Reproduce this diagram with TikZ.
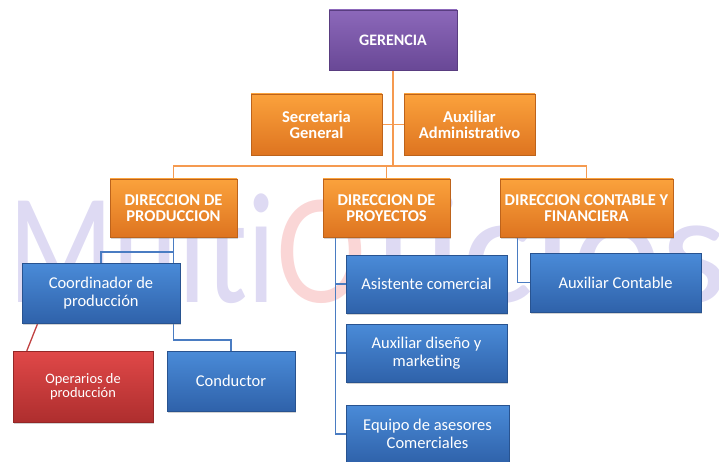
\documentclass[tikz,border=0pt]{standalone}
\usepackage{fontspec}
\setmainfont{Carlito}[Ligatures=CommonOff]
\usetikzlibrary{shadows,backgrounds}

\definecolor{orgtop}{HTML}{FBA23C}
\definecolor{orgbot}{HTML}{DE7420}
\definecolor{blutop}{HTML}{4A8BD8}
\definecolor{blubot}{HTML}{2F62AA}
\definecolor{purtop}{HTML}{8C68BA}
\definecolor{purbot}{HTML}{694896}
\definecolor{redtop}{HTML}{E04848}
\definecolor{redbot}{HTML}{AE2E2E}
\definecolor{olin}{HTML}{F59A50}
\definecolor{blin}{HTML}{4A7CC2}
\definecolor{rlin}{HTML}{C04040}
\definecolor{wlav}{HTML}{DEDAF3}
\definecolor{wpink}{HTML}{FAD6D6}

\begin{document}
\begin{tikzpicture}[x=1pt,y=-1pt]

\tikzstyle{box} = [
	rectangle, text=white, align=center, inner sep=2pt,
	drop shadow={shadow xshift=1.2pt,shadow yshift=-1.5pt,opacity=.35} ];
\tikzstyle{orgbox} = [box, top color=orgtop, bottom color=orgbot,
	draw=orgbot!85!black, line width=.4pt, font=\fontsize{16.5}{16}\selectfont\bfseries];
\tikzstyle{blubox} = [box, top color=blutop, bottom color=blubot,
	draw=blubot!85!black, line width=.4pt, font=\fontsize{16.5}{18}\selectfont];
\tikzstyle{olink} = [draw=olin, line width=1.3pt];
\tikzstyle{blink} = [draw=blin, line width=1.3pt];
\useasboundingbox (0,0) rectangle (719,462);

\node[box, top color=purtop, bottom color=purbot, draw=purbot!85!black,
	minimum width=128, minimum height=60,
	font=\fontsize{16}{16}\selectfont\bfseries] (ger) at (393,40) {GERENCIA};

\node[orgbox, minimum width=131, minimum height=61] (sec) at (316.5,124.5) {Secretaria\\General};
\node[orgbox, minimum width=131, minimum height=61] (aux) at (469.5,124.5) {Auxiliar\\Administrativo};

\node[orgbox, minimum width=127, minimum height=58] (dprod) at (173.5,208) {DIRECCION DE\\PRODUCCION};
\node[orgbox, minimum width=127, minimum height=58] (dproy) at (386.5,208) {DIRECCION DE\\PROYECTOS};
\node[orgbox, minimum width=173, minimum height=58] (dcf) at (586.5,208) {DIRECCION CONTABLE Y\\FINANCIERA};

\node[blubox, minimum width=158, minimum height=60] (coord) at (101,293) {Coordinador de\\producción};
\node[box, top color=redtop, bottom color=redbot, draw=redbot!85!black,
	minimum width=140, minimum height=71,
	font=\fontsize{14.4}{14}\selectfont] (oper) at (83,386.5) {Operarios de\\producción};
\node[blubox, minimum width=128, minimum height=60] (cond) at (231,381) {Conductor};

\node[blubox, minimum width=161, minimum height=58] (asis) at (426.5,284) {Asistente comercial};
\node[blubox, minimum width=161, minimum height=58] (disn) at (426.5,353) {Auxiliar diseño y\\marketing};
\node[blubox, minimum width=163, minimum height=58] (equi) at (427.5,434) {Equipo de asesores\\Comerciales};

\node[blubox, minimum width=171, minimum height=59] (auxc) at (615.5,282.5) {Auxiliar Contable};

\begin{scope}[on background layer]
% watermark
\node[anchor=base west, inner sep=0, text=wlav, font=\fontsize{158}{160}\selectfont] (wm1) at (8,302) {\scalebox{.78}[1]{Multi}};
\node[anchor=base west, inner sep=0, text=wpink, font=\fontsize{158}{160}\selectfont] (wm2) at (276,302) {\scalebox{.86}[1]{O}};
\node[anchor=base west, inner sep=0, text=wlav, font=\fontsize{158}{160}\selectfont] (wm3) at (372,302) {\scalebox{1.07}[1]{ficios}};

\coordinate (bus) at (393,166);
\draw[olink] (ger) -- (bus);
\draw[olink] (sec) -- (aux);
\draw[olink] (dprod.north) |- (bus) -| (dcf.north);
\draw[olink] (bus) -| (dproy.north);

\coordinate (pj) at (173.5,252);
\coordinate (pk) at (173.5,340);
\draw[blink] (dprod.south) -- (pj) -| (coord.north);
\draw[blink] (pj) -- (pk) -| (cond.north);
\draw[draw=rlin, line width=1.3pt] ([xshift=16pt]coord.south west) -- ([xshift=14pt]oper.north west);

\coordinate (pq) at ([xshift=13pt]dproy.south west);
\draw[blink] (pq) |- (equi.west);
\draw[blink] (asis.west -| pq) -- (asis.west);
\draw[blink] (disn.west -| pq) -- (disn.west);

\coordinate (pc) at ([xshift=18pt]dcf.south west);
\draw[blink] (pc) |- (auxc.west);
\end{scope}

\end{tikzpicture}
\end{document}
